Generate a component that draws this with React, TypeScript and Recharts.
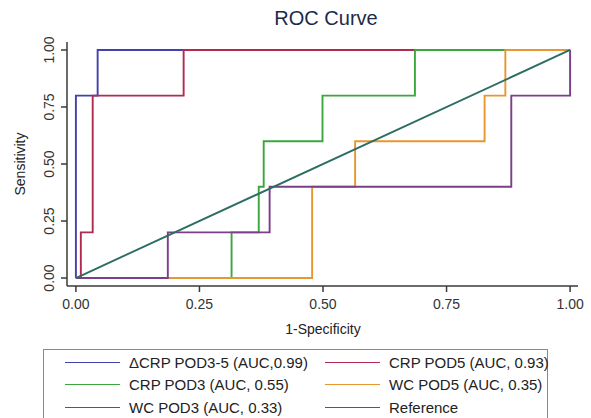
import React from "react";
import { LineChart, Line, XAxis, YAxis, Legend } from "recharts";

// ROC points as [1-specificity, sensitivity]
const dcrpPod35 = [[0, 0], [0, 0.8], [0.044, 1], [1, 1]];
const crpPod5 = [[0, 0], [0.01, 0.2], [0.034, 0.8], [0.218, 1], [1, 1]];
const crpPod3 = [[0, 0], [0.315, 0.2], [0.37, 0.4], [0.38, 0.6], [0.499, 0.8], [0.686, 1], [1, 1]];
const wcPod5 = [[0, 0], [0.478, 0.4], [0.565, 0.6], [0.827, 0.8], [0.869, 1], [1, 1]];
const wcPod3 = [[0, 0], [0.186, 0.2], [0.392, 0.4], [0.881, 0.8], [1, 1]];
const referenceLine = [[0, 0], [1, 1]];

const seriesNames = [
  "\u0394CRP POD3-5 (AUC,0.99)",
  "CRP POD5 (AUC, 0.93)",
  "CRP POD3 (AUC, 0.55)",
  "WC POD5 (AUC, 0.35)",
  "WC POD3 (AUC, 0.33)",
  "Reference",
];
const seriesColors = ["#4242ad", "#b22a50", "#3aa63c", "#e8962f", "#7b3e88", "#2c6e63"];
const seriesPoints = [dcrpPod35, crpPod5, crpPod3, wcPod5, wcPod3, referenceLine];

const xTicks = [0, 0.25, 0.5, 0.75, 1];
const yTicks = [0, 0.25, 0.5, 0.75, 1];

const FONT = "'Liberation Sans', Arial, sans-serif";
const AXIS = "#3a3a3a";

const toRows = (pts: number[][]) => pts.map(([fpr, tpr]) => ({ fpr, tpr }));

const YTick = (props: any) => {
  const { y, payload } = props;
  return (
    <text
      transform={`translate(49,${y}) rotate(-90)`}
      textAnchor="middle"
      dy="0.35em"
      fontSize={14}
      fill="#333"
      fontFamily={FONT}
    >
      {Number(payload.value).toFixed(2)}
    </text>
  );
};

const LegendBox = () => (
  <div
    style={{
      border: "1px solid #8a8a8a",
      background: "#fff",
      height: 75,
      boxSizing: "border-box",
      paddingTop: 1,
      paddingLeft: 21,
      display: "grid",
      gridTemplateColumns: "260px 1fr",
      gridAutoRows: "22.5px",
      fontFamily: FONT,
      fontSize: 15,
      color: "#222",
    }}
  >
    {seriesNames.map((name, i) => (
      <div key={name} style={{ display: "flex", alignItems: "center", whiteSpace: "nowrap" }}>
        <span
          style={{
            display: "inline-block",
            width: 55,
            height: 0,
            borderTop: `1.5px solid ${seriesColors[i]}`,
            marginRight: 9,
          }}
        />
        {name}
      </div>
    ))}
  </div>
);

export default function App() {
  return (
    <div style={{ position: "relative", width: 591, height: 418, overflow: "hidden", background: "#fff" }}>
      <style>{"body{margin:0}"}</style>
      <div
        style={{
          position: "absolute",
          left: 226,
          top: 8,
          width: 200,
          textAlign: "center",
          fontFamily: FONT,
          fontSize: 20,
          lineHeight: "20px",
          color: "#1d2a4b",
        }}
      >
        ROC Curve
      </div>
      <LineChart width={591} height={418} margin={{ top: 42, right: 13, left: 0, bottom: 72 }}>
        <XAxis
          type="number"
          dataKey="fpr"
          domain={[-0.018, 1.016]}
          allowDataOverflow
          ticks={xTicks}
          tickFormatter={(v: number) => v.toFixed(2)}
          height={60}
          tickSize={6}
          tickMargin={7}
          stroke={AXIS}
          strokeWidth={1.5}
          tick={{ fontSize: 14, fill: "#333", fontFamily: FONT }}
          label={() => (
            <text x={323} y={329} dy="0.35em" textAnchor="middle" fontSize={14} fill="#222" fontFamily={FONT}>
              1-Specificity
            </text>
          )}
        />
        <YAxis
          type="number"
          dataKey="tpr"
          domain={[-0.035, 1.035]}
          allowDataOverflow
          ticks={yTicks}
          width={67}
          tickSize={6}
          stroke={AXIS}
          strokeWidth={1.5}
          tick={<YTick />}
          label={() => (
            <text
              transform="translate(20,164) rotate(-90)"
              dy="0.35em"
              textAnchor="middle"
              fontSize={14}
              fill="#222"
              fontFamily={FONT}
            >
              Sensitivity
            </text>
          )}
        />
        {seriesPoints.map((pts, i) => (
          <Line
            key={seriesNames[i]}
            name={seriesNames[i]}
            data={toRows(pts)}
            dataKey="tpr"
            type={i === 5 ? "linear" : "stepAfter"}
            stroke={seriesColors[i]}
            strokeWidth={1.9}
            dot={false}
            activeDot={false}
            isAnimationActive={false}
          />
        ))}
        <Legend
          layout="horizontal"
          verticalAlign="middle"
          align="center"
          wrapperStyle={{ left: 43, top: 349, width: 505 }}
          content={() => <LegendBox />}
        />
      </LineChart>
    </div>
  );
}
